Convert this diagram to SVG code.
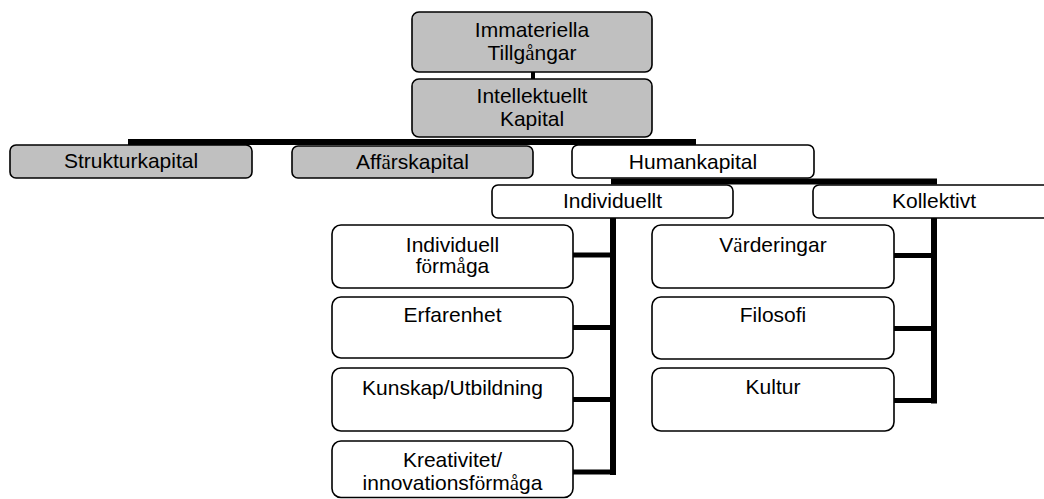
<svg xmlns="http://www.w3.org/2000/svg" width="1044" height="499" viewBox="0 0 1044 499">
<style>
.g{fill:#c0c0c0;stroke:#000;stroke-width:1.6}
.w{fill:#fff;stroke:#000;stroke-width:1.6}
text{font-family:"Liberation Sans",Arial,sans-serif;font-size:21px;fill:#000;text-anchor:middle}
.s{font-family:"Liberation Serif","Times New Roman",serif}
.c{stroke:#000;fill:none;stroke-linecap:square}
</style>
<rect width="1044" height="499" fill="#fff"/>
<g id="connectors">
<line class="c" x1="533" y1="72" x2="533" y2="79" stroke-width="4"/>
<line class="c" x1="131" y1="142" x2="693" y2="142" stroke-width="6"/>
<line class="c" x1="614" y1="181.5" x2="934" y2="181.5" stroke-width="6"/>
<line class="c" x1="613" y1="218" x2="613" y2="472" stroke-width="6"/>
<line class="c" x1="575" y1="255" x2="613" y2="255" stroke-width="5"/>
<line class="c" x1="575" y1="327.5" x2="613" y2="327.5" stroke-width="5"/>
<line class="c" x1="575" y1="399.5" x2="613" y2="399.5" stroke-width="5"/>
<line class="c" x1="575" y1="472" x2="613" y2="472" stroke-width="5"/>
<line class="c" x1="934" y1="218" x2="934" y2="400.5" stroke-width="6"/>
<line class="c" x1="896" y1="255.5" x2="934" y2="255.5" stroke-width="5"/>
<line class="c" x1="896" y1="328.5" x2="934" y2="328.5" stroke-width="5"/>
<line class="c" x1="896" y1="400.5" x2="934" y2="400.5" stroke-width="5"/>
</g>
<g id="immateriella">
<rect class="g" x="412" y="12" width="240" height="60" rx="7"/>
<text x="532" y="37">Immateriella</text>
<text x="532" y="60">Tillg<tspan class="s">å</tspan>ngar</text>
</g>
<g id="intellektuellt">
<rect class="g" x="412" y="79" width="240" height="58" rx="7"/>
<text x="532" y="103">Intellektuellt</text>
<text x="532" y="126">Kapital</text>
</g>
<g id="strukturkapital">
<rect class="g" x="10" y="145" width="242" height="33" rx="6"/>
<text x="131" y="168">Strukturkapital</text>
</g>
<g id="affarskapital">
<rect class="g" x="292" y="146" width="241" height="32" rx="6"/>
<text x="412.5" y="169">Aff<tspan class="s">ä</tspan>rskapital</text>
</g>
<g id="humankapital">
<rect class="w" x="572" y="145" width="242" height="33" rx="6"/>
<text x="693" y="169">Humankapital</text>
</g>
<g id="individuellt">
<rect class="w" x="492" y="185" width="241" height="33" rx="6"/>
<text x="612.5" y="208">Individuellt</text>
</g>
<g id="kollektivt">
<rect class="w" x="813" y="185" width="242" height="33" rx="6"/>
<text x="934" y="208">Kollektivt</text>
</g>
<g id="individuell-formaga">
<rect class="w" x="332" y="225" width="241" height="63" rx="9"/>
<text x="452.5" y="252">Individuell</text>
<text x="452.5" y="273">f<tspan class="s">ö</tspan>rm<tspan class="s">å</tspan>ga</text>
</g>
<g id="erfarenhet">
<rect class="w" x="332" y="297" width="241" height="61" rx="9"/>
<text x="452.5" y="322">Erfarenhet</text>
</g>
<g id="kunskap">
<rect class="w" x="332" y="368" width="241" height="63" rx="9"/>
<text x="452.5" y="395">Kunskap/Utbildning</text>
</g>
<g id="kreativitet">
<rect class="w" x="332" y="441" width="241" height="56.5" rx="9"/>
<text x="452.5" y="467">Kreativitet/</text>
<text x="452.5" y="490">innovationsf<tspan class="s">ö</tspan>rm<tspan class="s">å</tspan>ga</text>
</g>
<g id="varderingar">
<rect class="w" x="652" y="225" width="242" height="63" rx="9"/>
<text x="773" y="252">V<tspan class="s">ä</tspan>rderingar</text>
</g>
<g id="filosofi">
<rect class="w" x="652" y="297" width="242" height="62" rx="9"/>
<text x="773" y="322">Filosofi</text>
</g>
<g id="kultur">
<rect class="w" x="652" y="368" width="242" height="63" rx="9"/>
<text x="773" y="394">Kultur</text>
</g>
</svg>
